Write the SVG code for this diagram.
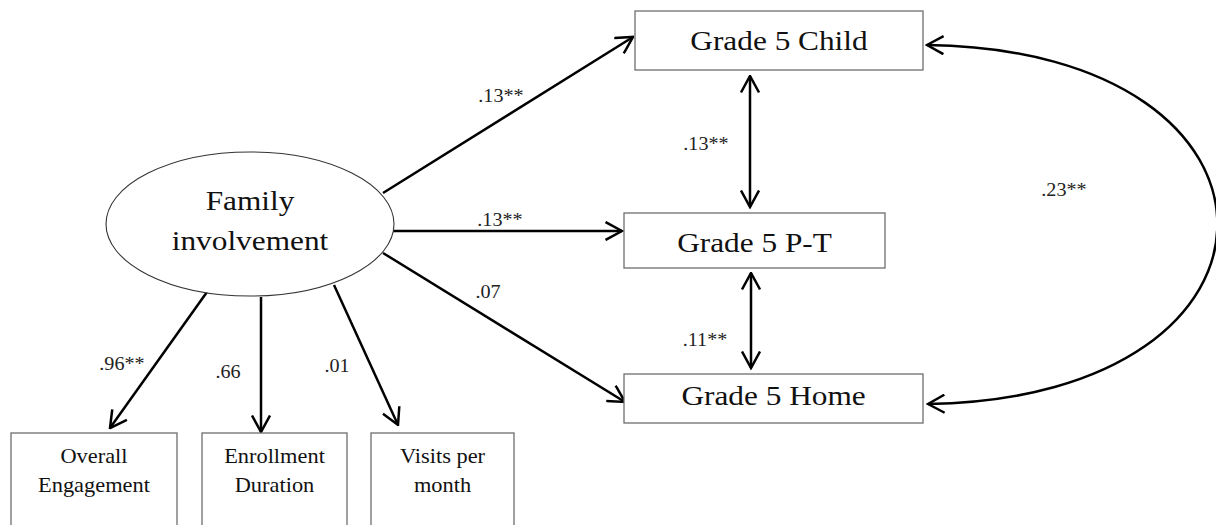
<svg xmlns="http://www.w3.org/2000/svg" width="1216" height="525" viewBox="0 0 1216 525">
  <style>
    .box { fill: #ffffff; stroke: #6e6e6e; stroke-width: 1.3; }
    .oval { fill: #ffffff; stroke: #333333; stroke-width: 1.1; }
    .edge { fill: none; stroke: #000000; stroke-width: 2.5; }
    .big { font-family: "Liberation Serif", "Times New Roman", serif; font-size: 27px; fill: #111111; text-anchor: middle; }
    .small { font-family: "Liberation Serif", "Times New Roman", serif; font-size: 20px; fill: #111111; text-anchor: middle; }
    .coef { font-family: "Liberation Serif", "Times New Roman", serif; font-size: 18px; fill: #222222; text-anchor: middle; }
  </style>
  <defs>
    <marker id="head" viewBox="0 0 19 20" refX="17.5" refY="10" markerWidth="19" markerHeight="20" markerUnits="userSpaceOnUse" orient="auto-start-reverse">
      <path d="M1,1 L17.5,10 L1,19" fill="none" stroke="#000000" stroke-width="2.5"/>
    </marker>
  </defs>

  <rect width="1216" height="525" fill="#ffffff"/>

  <!-- paths and covariances -->
  <g id="connectors">
    <line class="edge" x1="383" y1="193" x2="633" y2="37" marker-end="url(#head)"/>
    <line class="edge" x1="392" y1="231" x2="622" y2="231" marker-end="url(#head)"/>
    <line class="edge" x1="383" y1="253" x2="625" y2="402" marker-end="url(#head)"/>
    <line class="edge" x1="207" y1="292" x2="110" y2="428" marker-end="url(#head)"/>
    <line class="edge" x1="261" y1="297" x2="261" y2="432" marker-end="url(#head)"/>
    <line class="edge" x1="334" y1="285" x2="398" y2="425" marker-end="url(#head)"/>
    <line class="edge" x1="750" y1="76" x2="750" y2="207" marker-start="url(#head)" marker-end="url(#head)"/>
    <line class="edge" x1="751" y1="273" x2="751" y2="368" marker-start="url(#head)" marker-end="url(#head)"/>
    <path class="edge" d="M927,45 C1314,50 1314,398 928,404" marker-start="url(#head)" marker-end="url(#head)"/>

    <text class="coef" transform="translate(501 102) scale(1.12 1)">.13**</text>
    <text class="coef" transform="translate(500 226) scale(1.12 1)">.13**</text>
    <text class="coef" transform="translate(488 298) scale(1.12 1)">.07</text>
    <text class="coef" transform="translate(706 150) scale(1.12 1)">.13**</text>
    <text class="coef" transform="translate(705 346) scale(1.12 1)">.11**</text>
    <text class="coef" transform="translate(1064 196) scale(1.12 1)">.23**</text>
    <text class="coef" transform="translate(122 370) scale(1.12 1)">.96**</text>
    <text class="coef" transform="translate(228 378) scale(1.12 1)">.66</text>
    <text class="coef" transform="translate(337 372) scale(1.12 1)">.01</text>
  </g>

  <!-- latent factor -->
  <g id="family">
    <ellipse class="oval" cx="250" cy="224" rx="144" ry="72"/>
    <text class="big" transform="translate(250 210) scale(1.16 1)">Family</text>
    <text class="big" transform="translate(250 250) scale(1.16 1)">involvement</text>
  </g>

  <!-- outcomes -->
  <g id="child">
    <rect class="box" x="635" y="11" width="288" height="59"/>
    <text class="big" transform="translate(779 50) scale(1.16 1)">Grade 5 Child</text>
  </g>
  <g id="pt">
    <rect class="box" x="624" y="213" width="261" height="55"/>
    <text class="big" transform="translate(754.5 252) scale(1.16 1)">Grade 5 P-T</text>
  </g>
  <g id="home">
    <rect class="box" x="624" y="374" width="299" height="49"/>
    <text class="big" transform="translate(773.5 405) scale(1.16 1)">Grade 5 Home</text>
  </g>

  <!-- indicators -->
  <g id="overall">
    <rect class="box" x="11" y="433" width="166" height="110"/>
    <text class="small" transform="translate(94 463) scale(1.12 1)">Overall</text>
    <text class="small" transform="translate(94 492) scale(1.12 1)">Engagement</text>
  </g>
  <g id="enrollment">
    <rect class="box" x="202" y="433" width="145" height="110"/>
    <text class="small" transform="translate(274.5 463) scale(1.12 1)">Enrollment</text>
    <text class="small" transform="translate(274.5 492) scale(1.12 1)">Duration</text>
  </g>
  <g id="visits">
    <rect class="box" x="371" y="433" width="143" height="110"/>
    <text class="small" transform="translate(442.5 463) scale(1.12 1)">Visits per</text>
    <text class="small" transform="translate(442.5 492) scale(1.12 1)">month</text>
  </g>
</svg>
